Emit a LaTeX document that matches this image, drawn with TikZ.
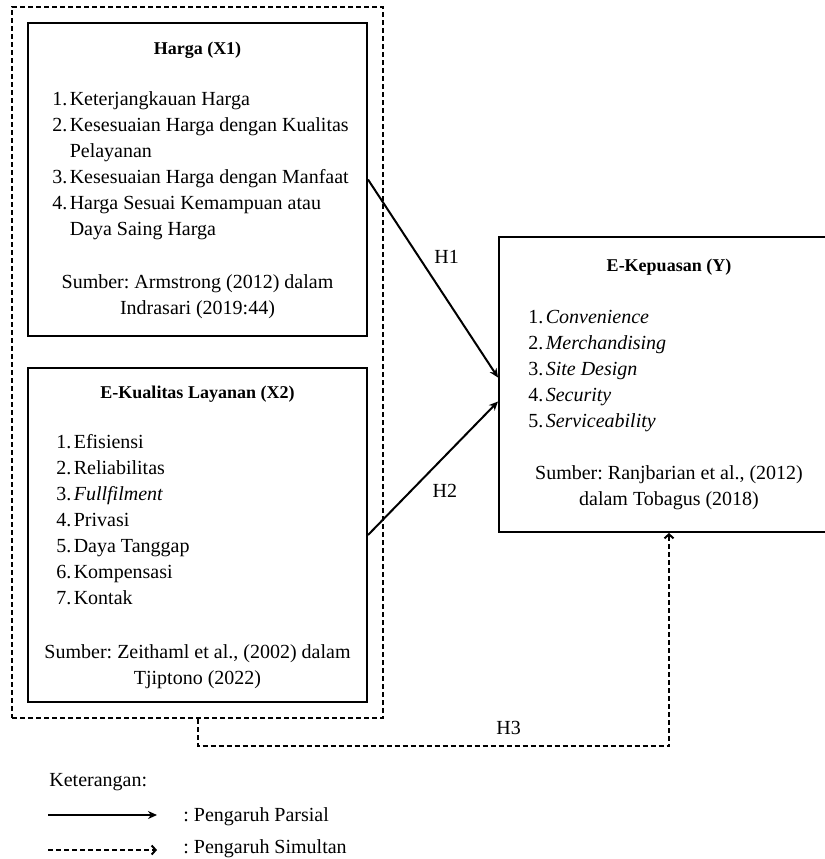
\documentclass[tikz,border=0pt]{standalone}
\usepackage{fontspec}
\setmainfont{Liberation Serif}
\usepackage{tikz}
\usetikzlibrary{arrows.meta, fit}
\frenchspacing
\tikzset{
    box/.style={rectangle, draw=black, line width=1pt, inner sep=0pt},
    dashbox/.style={rectangle, draw=black, line width=1pt, dash pattern=on 2.5pt off 1.5pt},
    arrow/.style={line width=1pt, -{Stealth[length=4.5pt, width=4pt]}},
    dasharrow/.style={line width=1pt, dash pattern=on 2.5pt off 1.5pt, -{Straight Barb[length=2pt, width=4.5pt]}},
    title/.style={anchor=base, inner sep=0pt, font=\fontsize{9}{11}\selectfont\bfseries},
    items/.style={anchor=base west, inner sep=0pt},
    src/.style={anchor=base, inner sep=0pt},
    legend/.style={anchor=base west, inner sep=0pt}
}

\begin{document}
\begin{tikzpicture}[x=0.5pt, y=-0.5pt, font=\fontsize{10}{13}\selectfont]
    \useasboundingbox (0,0) rectangle (825,859);
    % Harga
    \node (harga_box) [box, minimum width=169.5pt, minimum height=156.5pt] at (197.5,179.5) {};
    \node (harga_title) [title] at (197.5,54) {Harga (X1)};
    \node (harga_items) [items] at (52,105) {\begin{tabular}[t]{@{}r@{\hspace{1.2pt}}l@{}}
        1. & Keterjangkauan Harga\\
        2. & Kesesuaian Harga dengan Kualitas\\
           & Pelayanan\\
        3. & Kesesuaian Harga dengan Manfaat\\
        4. & Harga Sesuai Kemampuan atau\\
           & Daya Saing Harga
    \end{tabular}};
    \node (harga_src) [src] at (197.5,288) {\begin{tabular}[t]{@{}c@{}}
        Sumber: Armstrong (2012) dalam\\ Indrasari (2019:44)
    \end{tabular}};
    % E-Kualitas Layanan
    \node (kualitas_box) [box, minimum width=169.5pt, minimum height=167pt] at (197.5,535) {};
    \node (kualitas_title) [title] at (197.5,398) {E-Kualitas Layanan (X2)};
    \node (kualitas_items) [items] at (56,448) {\begin{tabular}[t]{@{}r@{\hspace{1.2pt}}l@{}}
        1. & Efisiensi\\
        2. & Reliabilitas\\
        3. & \textit{Fullfilment}\\
        4. & Privasi\\
        5. & Daya Tanggap\\
        6. & Kompensasi\\
        7. & Kontak
    \end{tabular}};
    \node (kualitas_src) [src] at (197.5,658) {\begin{tabular}[t]{@{}c@{}}
        Sumber: Zeithaml et al., (2002) dalam\\ Tjiptono (2022)
    \end{tabular}};
    % Group
    \node (group_box) [dashbox, fit=(harga_box)(kualitas_box), inner sep=7.5pt] {};
    % E-Kepuasan
    \node (kepuasan_box) [box, minimum width=170pt, minimum height=147.5pt] at (669,384.5) {};
    \node (kepuasan_title) [title] at (669,271) {E-Kepuasan (Y)};
    \node (kepuasan_items) [items] at (528,323) {\begin{tabular}[t]{@{}r@{\hspace{1.2pt}}l@{}}
        1. & \textit{Convenience}\\
        2. & \textit{Merchandising}\\
        3. & \textit{Site Design}\\
        4. & \textit{Security}\\
        5. & \textit{Serviceability}
    \end{tabular}};
    \node (kepuasan_src) [src] at (669,479) {\begin{tabular}[t]{@{}c@{}}
        Sumber: Ranjbarian et al., (2012)\\ dalam Tobagus (2018)
    \end{tabular}};
    % Arrows
    \draw [arrow] (harga_box.east) -- node[pos=0.39, right=4pt] {H1} ([yshift=3.5pt]kepuasan_box.west);
    \draw [arrow] (kualitas_box.east) -- node[pos=0.33, right=7pt] {H2} ([yshift=-8.5pt]kepuasan_box.west);
    \draw [dasharrow] (group_box.south) -- ++(0,27) -| node[pos=0.33, above=2pt] {H3} (kepuasan_box.south);
    % Legend
    \node (legend_title) [legend] at (49,786) {Keterangan:};
    \coordinate (solid_a) at (48,815);
    \coordinate (solid_b) at (157,815);
    \coordinate (dash_a) at (48,850);
    \coordinate (dash_b) at (157,850);
    \draw [arrow] (solid_a) -- (solid_b);
    \draw [dasharrow] (dash_a) -- (dash_b);
    \node (legend_solid) [legend] at (183,821) {: Pengaruh Parsial};
    \node (legend_dash) [legend] at (183,853) {: Pengaruh Simultan};
\end{tikzpicture}
\end{document}
